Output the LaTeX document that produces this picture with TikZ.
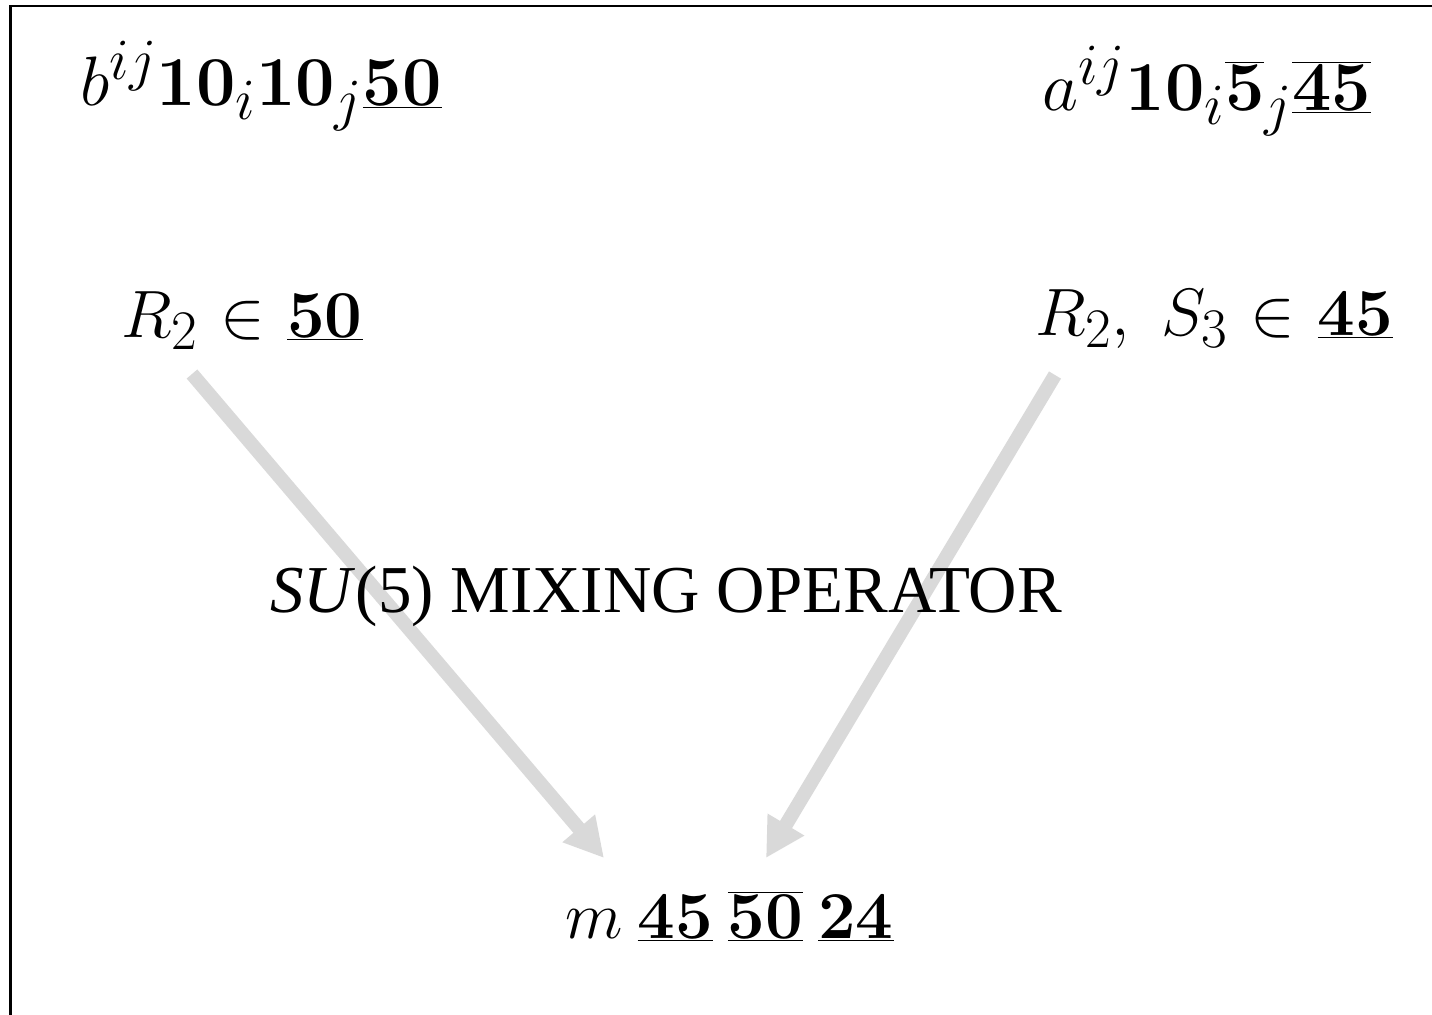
\documentclass[tikz,border=0pt]{standalone}
\usepackage{fix-cm}
\usepackage[no-math]{fontspec}
\newfontfamily\opfont{Liberation Serif}
\usetikzlibrary{arrows.meta}
% script sizes in the proportion of the \Huge math setup
\DeclareMathSizes{33.5}{33.5}{27.9}{23.3}
\DeclareMathSizes{35}{35}{29.2}{24.3}
\definecolor{arrowgray}{RGB}{217,217,217}
\newcommand{\relgap}{\mkern1mu}
\tikzset{
  formula/.style={inner sep=0pt, anchor=base west, font=\fontsize{33.5}{40}\selectfont},
  topformula/.style={formula, font=\fontsize{35}{42}\selectfont},
  optext/.style={inner sep=0pt, anchor=base west, font=\opfont\fontsize{33.5}{40}\selectfont},
  flow/.style={draw=arrowgray, line width=7pt, -{Triangle[length=19.5pt, width=20pt]}},
  frame/.style={draw=black, line width=1.4pt},
}
\begin{document}
\begin{tikzpicture}[x=0.5pt, y=-0.5pt]
\useasboundingbox (0,0) rectangle (1432,1014);
\clip (0,0) rectangle (1432,1014);

% open frame: only the left and top edges fall inside the page
\draw[frame] (10.5,1030) -- (10.5,6) -- (1450,6);

% arrow end points
\coordinate (lstart) at (192,374);
\coordinate (ltip) at (604,858);
\coordinate (rstart) at (1055,375);
\coordinate (rtip) at (766,858);

% grey arrows, drawn beneath the text
\draw[flow] (lstart) -- (ltip);
\draw[flow] (rstart) -- (rtip);

% couplings
\node[topformula] (bterm) at (80,105) {$b^{ij}\mathbf{10}_i\mathbf{10}_j\underline{\mathbf{50}}$};
\node[topformula] (aterm) at (1042,110) {$a^{ij}\mathbf{10}_i\overline{\mathbf{5}}_j\overline{\underline{\mathbf{45}}}$};

% leptoquark content
\node[formula] (rfifty) at (121,337) {$R_2\relgap\in\relgap\underline{\mathbf{50}}$};
\node[formula] (rsfortyfive) at (1035,335) {$R_2,\ S_3\relgap\in\relgap\underline{\mathbf{45}}$};

% operator label
\node[optext] (mixop) at (270,612) {\textit{SU}(5) MIXING OPERATOR};

% mass term
\node[formula] (mass) at (565,938) {$m\:\underline{\mathbf{45}}\:\overline{\underline{\mathbf{50}}}\:\underline{\mathbf{24}}$};
\end{tikzpicture}
\end{document}
